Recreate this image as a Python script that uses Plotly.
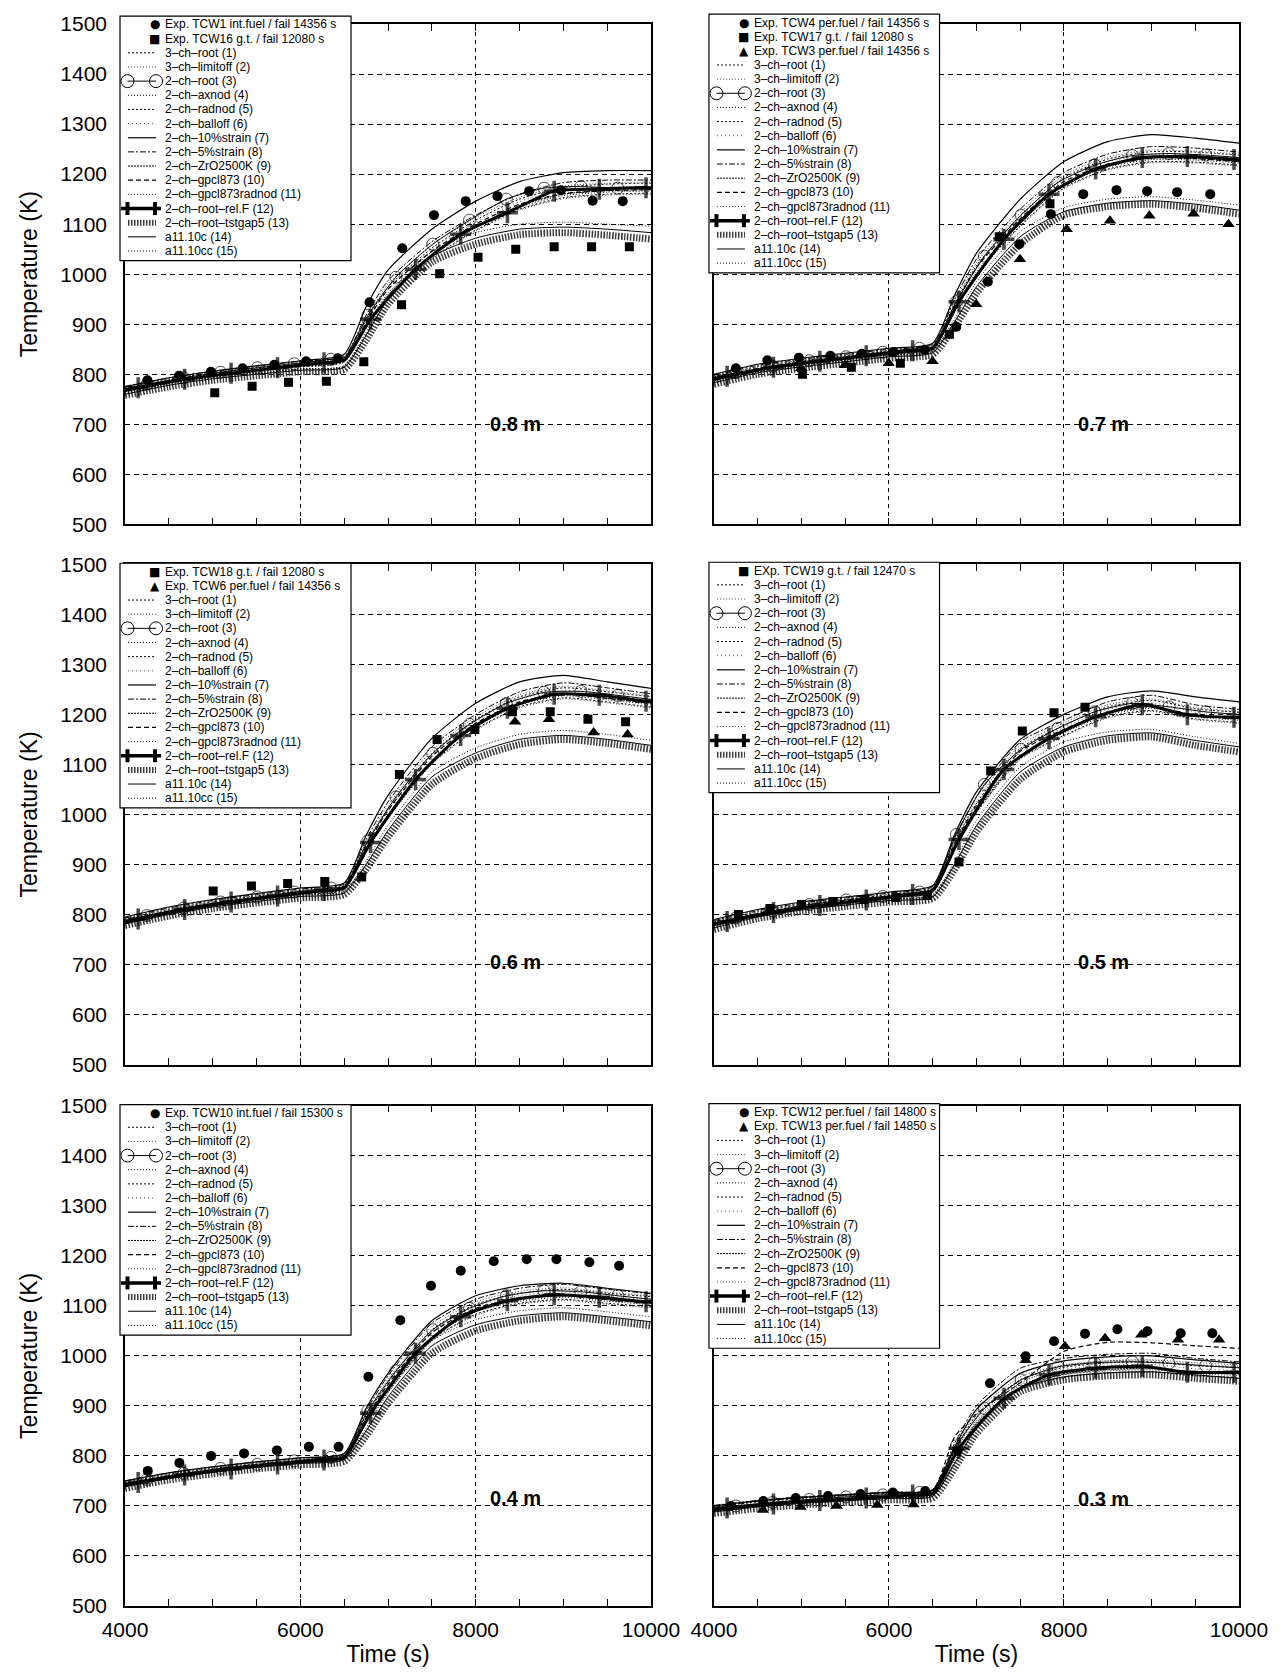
import plotly.graph_objects as go

# ---------------- data ----------------
TIME = [4000, 4500, 5000, 5500, 6000, 6500, 6750, 7000, 7500, 8000, 8500, 9000, 9500, 10000]
TIME_C3 = [4000, 4250, 4670, 5090, 5510, 5930, 6350, 6500, 6770, 7090, 7510, 7930, 8350, 8780, 9200, 9620, 10000]
TIME_C12 = [4000, 4150, 4680, 5210, 5740, 6270, 6500, 6800, 7314, 7829, 8362, 8895, 9410, 9943, 10000]
X_TICKS = [4000, 6000, 8000, 10000]
X_TICK_TEXT = ["4000", "6000", "8000", "10000"]

CURVE_LABELS = {
    1: "3–ch–root (1)", 2: "3–ch–limitoff (2)", 3: "2–ch–root (3)", 4: "2–ch–axnod (4)",
    5: "2–ch–radnod (5)", 6: "2–ch–balloff (6)", 7: "2–ch–10%strain (7)", 8: "2–ch–5%strain (8)",
    9: "2–ch–ZrO2500K (9)", 10: "2–ch–gpcl873 (10)", 11: "2–ch–gpcl873radnod (11)",
    12: "2–ch–root–rel.F (12)", 13: "2–ch–root–tstgap5 (13)", 14: "a11.10c (14)", 15: "a11.10cc (15)",
}

# ---- 0.8 m ----
H08_C01 = [773, 790, 803, 813, 823, 833, 908, 974, 1052, 1108, 1150, 1173, 1180, 1182]
H08_C02 = [774, 791, 804, 814, 824, 834, 912, 980, 1058, 1113, 1154, 1176, 1182, 1184]
H08_C03 = [771, 780, 793, 804, 813, 821, 830, 833, 918, 994, 1060, 1108, 1150, 1172, 1175, 1172, 1172]
H08_C04 = [766, 783, 796, 806, 816, 826, 898, 962, 1037, 1093, 1134, 1157, 1164, 1166]
H08_C05 = [765, 782, 795, 805, 815, 825, 894, 956, 1032, 1088, 1130, 1153, 1160, 1162]
H08_C06 = [771, 788, 801, 811, 821, 831, 903, 970, 1048, 1104, 1145, 1168, 1174, 1176]
H08_C07 = [775, 793, 806, 817, 827, 840, 935, 1008, 1090, 1146, 1185, 1203, 1207, 1207]
H08_C08 = [776, 793, 806, 816, 826, 836, 918, 987, 1065, 1118, 1160, 1183, 1188, 1188]
H08_C09 = [767, 784, 797, 807, 817, 827, 896, 958, 1036, 1095, 1137, 1160, 1167, 1169]
H08_C10 = [770, 787, 800, 810, 820, 830, 904, 970, 1046, 1100, 1140, 1161, 1167, 1169]
H08_C11 = [764, 781, 794, 804, 814, 824, 892, 954, 1030, 1086, 1128, 1151, 1158, 1160]
H08_C12 = [768, 773, 790, 802, 813, 823, 828, 910, 1010, 1080, 1123, 1166, 1170, 1173, 1172]
H08_C13 = [758, 775, 788, 797, 805, 810, 868, 940, 1024, 1060, 1079, 1083, 1078, 1070]
H08_C14 = [760, 778, 791, 800, 808, 814, 878, 950, 1035, 1072, 1090, 1094, 1090, 1083]
H08_C15 = [763, 781, 794, 803, 811, 817, 884, 957, 1045, 1083, 1100, 1104, 1100, 1096]
H08_TCW1_T = [4255, 4617, 4979, 5341, 5703, 6065, 6427, 6789, 7162, 7524, 7886, 8248, 8610, 8972, 9334, 9677]
H08_TCW1_V = [788, 797, 805, 812, 819, 826, 832, 944, 1052, 1118, 1146, 1156, 1166, 1168, 1147, 1146]
H08_TCW16_T = [5024, 5450, 5865, 6297, 6724, 7154, 7589, 8027, 8457, 8895, 9322, 9753]
H08_TCW16_V = [763, 776, 784, 786, 825, 939, 1001, 1034, 1050, 1055, 1055, 1055]

# ---- 0.7 m ----
H07_C01 = [795, 815, 827, 837, 847, 857, 940, 1017, 1117, 1193, 1230, 1245, 1244, 1238]
H07_C02 = [796, 816, 828, 838, 848, 858, 944, 1023, 1123, 1198, 1234, 1248, 1246, 1240]
H07_C03 = [793, 803, 816, 827, 835, 844, 852, 855, 945, 1036, 1118, 1183, 1218, 1237, 1241, 1238, 1233]
H07_C04 = [788, 808, 820, 830, 840, 850, 930, 1005, 1102, 1178, 1214, 1229, 1228, 1222]
H07_C05 = [787, 807, 819, 829, 839, 849, 926, 999, 1097, 1173, 1210, 1225, 1224, 1218]
H07_C06 = [793, 813, 825, 835, 845, 855, 935, 1013, 1113, 1189, 1225, 1240, 1238, 1232]
H07_C07 = [800, 820, 832, 842, 852, 862, 958, 1042, 1150, 1225, 1265, 1279, 1272, 1262]
H07_C08 = [798, 818, 830, 840, 850, 860, 950, 1030, 1130, 1203, 1240, 1255, 1252, 1244]
H07_C09 = [789, 809, 821, 831, 841, 851, 928, 1001, 1101, 1180, 1217, 1232, 1231, 1225]
H07_C10 = [792, 812, 824, 834, 844, 854, 936, 1013, 1111, 1185, 1220, 1233, 1231, 1225]
H07_C11 = [786, 806, 818, 828, 838, 848, 924, 997, 1095, 1171, 1208, 1223, 1222, 1216]
H07_C12 = [790, 796, 814, 826, 837, 847, 852, 945, 1070, 1160, 1210, 1233, 1235, 1229, 1228]
H07_C13 = [780, 800, 812, 822, 832, 840, 895, 962, 1060, 1118, 1135, 1140, 1132, 1120]
H07_C14 = [783, 803, 815, 825, 835, 843, 905, 975, 1075, 1125, 1142, 1147, 1140, 1128]
H07_C15 = [786, 806, 818, 828, 838, 846, 912, 985, 1085, 1133, 1150, 1155, 1148, 1138]
H07_TCW4_T = [4250, 4610, 4970, 5330, 5690, 6050, 6410, 6770, 7130, 7490, 7850, 8220, 8600, 8950, 9293, 9671]
H07_TCW4_V = [812, 828, 833, 837, 841, 844, 849, 895, 985, 1060, 1120, 1160, 1168, 1166, 1164, 1160]
H07_TCW17_T = [5012, 5570, 6130, 6690, 7260, 7840]
H07_TCW17_V = [800, 814, 822, 880, 1075, 1141]
H07_TCW3_T = [4997, 5497, 5997, 6497, 6997, 7497, 8031, 8526, 8976, 9480, 9880]
H07_TCW3_V = [812, 818, 822, 826, 940, 1030, 1090, 1107, 1117, 1121, 1100]

# ---- 0.6 m ----
H06_C01 = [790, 810, 825, 837, 848, 858, 940, 1012, 1122, 1190, 1235, 1253, 1245, 1235]
H06_C02 = [791, 811, 826, 838, 849, 859, 944, 1018, 1128, 1195, 1239, 1256, 1247, 1237]
H06_C03 = [788, 798, 813, 825, 835, 845, 853, 856, 947, 1035, 1122, 1180, 1222, 1244, 1246, 1238, 1230]
H06_C04 = [783, 803, 818, 830, 841, 851, 930, 1000, 1107, 1175, 1219, 1237, 1229, 1219]
H06_C05 = [782, 802, 817, 829, 840, 850, 926, 994, 1102, 1170, 1215, 1233, 1225, 1215]
H06_C06 = [788, 808, 823, 835, 846, 856, 935, 1008, 1118, 1186, 1230, 1248, 1239, 1229]
H06_C07 = [795, 815, 830, 842, 853, 863, 958, 1038, 1152, 1222, 1265, 1278, 1265, 1252]
H06_C08 = [793, 813, 828, 840, 851, 861, 950, 1025, 1135, 1200, 1245, 1263, 1253, 1241]
H06_C09 = [784, 804, 819, 831, 842, 852, 928, 996, 1106, 1177, 1222, 1240, 1232, 1222]
H06_C10 = [787, 807, 822, 834, 845, 855, 936, 1008, 1116, 1182, 1225, 1241, 1232, 1222]
H06_C11 = [781, 801, 816, 828, 839, 849, 924, 992, 1100, 1168, 1213, 1231, 1223, 1213]
H06_C12 = [785, 791, 810, 825, 837, 848, 853, 944, 1070, 1158, 1212, 1240, 1238, 1226, 1225]
H06_C13 = [778, 797, 812, 823, 833, 840, 890, 955, 1060, 1112, 1140, 1150, 1142, 1130]
H06_C14 = [781, 800, 815, 826, 836, 843, 900, 968, 1075, 1123, 1150, 1158, 1150, 1138]
H06_C15 = [784, 803, 818, 829, 839, 846, 907, 978, 1085, 1133, 1160, 1168, 1160, 1148]
H06_TCW18_T = [5006, 5442, 5855, 6279, 6700, 7130, 7560, 7990, 8420, 8850, 9280, 9710]
H06_TCW18_V = [847, 857, 862, 866, 875, 1080, 1150, 1170, 1205, 1205, 1190, 1185]
H06_TCW6_T = [8448, 8836, 9345, 9733]
H06_TCW6_V = [1185, 1190, 1164, 1160]

# ---- 0.5 m ----
H05_C01 = [785, 805, 820, 830, 840, 853, 945, 1022, 1132, 1178, 1215, 1228, 1211, 1204]
H05_C02 = [786, 806, 821, 831, 841, 854, 949, 1028, 1138, 1183, 1219, 1231, 1213, 1206]
H05_C03 = [783, 793, 807, 820, 829, 836, 845, 851, 960, 1060, 1130, 1172, 1205, 1222, 1215, 1205, 1200]
H05_C04 = [778, 798, 813, 823, 833, 846, 935, 1010, 1117, 1163, 1199, 1212, 1195, 1188]
H05_C05 = [777, 797, 812, 822, 832, 845, 931, 1004, 1112, 1158, 1195, 1208, 1191, 1184]
H05_C06 = [783, 803, 818, 828, 838, 851, 940, 1018, 1128, 1174, 1210, 1223, 1205, 1198]
H05_C07 = [790, 810, 825, 835, 845, 858, 960, 1045, 1150, 1200, 1235, 1247, 1235, 1225]
H05_C08 = [788, 808, 823, 833, 843, 856, 955, 1035, 1145, 1188, 1225, 1238, 1219, 1210]
H05_C09 = [779, 799, 814, 824, 834, 847, 933, 1006, 1116, 1165, 1202, 1215, 1198, 1191]
H05_C10 = [782, 802, 817, 827, 837, 850, 941, 1018, 1126, 1170, 1205, 1216, 1198, 1191]
H05_C11 = [776, 796, 811, 821, 831, 844, 929, 1002, 1110, 1156, 1193, 1206, 1189, 1182]
H05_C12 = [780, 786, 804, 818, 829, 840, 848, 950, 1090, 1152, 1195, 1219, 1199, 1194, 1194]
H05_C13 = [770, 792, 806, 816, 825, 832, 890, 965, 1070, 1125, 1148, 1155, 1138, 1125]
H05_C14 = [773, 795, 809, 819, 828, 835, 900, 978, 1085, 1135, 1157, 1163, 1148, 1135]
H05_C15 = [776, 798, 812, 822, 831, 838, 907, 988, 1095, 1145, 1165, 1170, 1155, 1142]
H05_TCW19_T = [4280, 4640, 5000, 5360, 5720, 6080, 6440, 6800, 7162, 7524, 7886, 8240]
H05_TCW19_V = [800, 812, 820, 826, 830, 834, 838, 905, 1087, 1167, 1203, 1214]

# ---- 0.4 m ----
H04_C01 = [747, 763, 775, 785, 793, 802, 880, 947, 1052, 1103, 1125, 1133, 1125, 1118]
H04_C02 = [748, 764, 776, 786, 794, 803, 884, 953, 1058, 1108, 1129, 1136, 1127, 1120]
H04_C03 = [745, 753, 765, 775, 783, 790, 797, 800, 890, 970, 1052, 1095, 1120, 1130, 1128, 1120, 1113]
H04_C04 = [740, 756, 768, 778, 786, 795, 870, 935, 1037, 1088, 1109, 1117, 1109, 1102]
H04_C05 = [739, 755, 767, 777, 785, 794, 866, 929, 1032, 1083, 1105, 1113, 1105, 1098]
H04_C06 = [745, 761, 773, 783, 791, 800, 875, 943, 1048, 1099, 1120, 1128, 1119, 1112]
H04_C07 = [750, 766, 778, 788, 796, 805, 895, 965, 1070, 1120, 1140, 1145, 1135, 1125]
H04_C08 = [750, 766, 778, 788, 796, 805, 890, 960, 1065, 1113, 1135, 1143, 1133, 1124]
H04_C09 = [741, 757, 769, 779, 787, 796, 868, 931, 1036, 1090, 1112, 1120, 1112, 1105]
H04_C10 = [744, 760, 772, 782, 790, 799, 876, 943, 1046, 1095, 1115, 1121, 1112, 1105]
H04_C11 = [738, 754, 766, 776, 784, 793, 864, 927, 1030, 1081, 1103, 1111, 1103, 1096]
H04_C12 = [742, 747, 762, 774, 784, 792, 797, 885, 1005, 1078, 1110, 1122, 1117, 1108, 1108]
H04_C13 = [735, 752, 764, 774, 782, 789, 840, 905, 1005, 1050, 1070, 1078, 1070, 1060]
H04_C14 = [738, 755, 767, 777, 785, 792, 850, 918, 1020, 1062, 1080, 1086, 1078, 1068]
H04_C15 = [741, 758, 770, 780, 788, 795, 856, 926, 1030, 1072, 1090, 1096, 1088, 1078]
H04_TCW10_T = [4260, 4620, 4982, 5358, 5733, 6097, 6436, 6776, 7140, 7490, 7830, 8206, 8582, 8921, 9297, 9636]
H04_TCW10_V = [770, 786, 800, 805, 811, 818, 818, 958, 1071, 1140, 1170, 1189, 1193, 1193, 1187, 1180]

# ---- 0.3 m ----
H03_C01 = [698, 708, 715, 720, 725, 730, 810, 882, 952, 977, 986, 988, 980, 977]
H03_C02 = [699, 709, 716, 721, 726, 731, 814, 888, 958, 982, 990, 991, 982, 979]
H03_C03 = [696, 700, 707, 713, 718, 722, 727, 728, 820, 895, 952, 978, 986, 988, 985, 980, 976]
H03_C04 = [691, 701, 708, 713, 718, 723, 800, 870, 937, 962, 970, 972, 964, 961]
H03_C05 = [690, 700, 707, 712, 717, 722, 796, 864, 932, 957, 966, 968, 960, 957]
H03_C06 = [696, 706, 713, 718, 723, 728, 805, 878, 948, 973, 981, 983, 974, 971]
H03_C07 = [700, 710, 717, 722, 727, 732, 818, 893, 965, 990, 998, 1000, 992, 985]
H03_C08 = [701, 711, 718, 723, 728, 733, 825, 900, 975, 995, 1003, 1005, 995, 988]
H03_C09 = [692, 702, 709, 714, 719, 724, 798, 866, 936, 964, 973, 975, 967, 964]
H03_C10 = [700, 710, 717, 722, 727, 732, 838, 884, 946, 1009, 1027, 1026, 1020, 1015]
H03_C11 = [695, 705, 712, 717, 722, 727, 810, 875, 945, 980, 990, 992, 986, 982]
H03_C12 = [693, 696, 704, 711, 716, 722, 725, 815, 915, 962, 975, 979, 967, 967, 967]
H03_C13 = [685, 695, 702, 707, 712, 716, 775, 845, 928, 952, 960, 962, 955, 949]
H03_C14 = [688, 698, 705, 710, 715, 719, 785, 855, 935, 958, 966, 968, 962, 955]
H03_C15 = [690, 700, 707, 712, 717, 721, 790, 862, 942, 963, 972, 974, 968, 962]
H03_TCW12_T = [4194, 4564, 4934, 5304, 5674, 6044, 6414, 6784, 7154, 7562, 7886, 8240, 8610, 8953, 9334, 9695]
H03_TCW12_V = [700, 710, 716, 720, 724, 727, 730, 810, 945, 999, 1029, 1044, 1053, 1049, 1045, 1045]
H03_TCW13_T = [4560, 4988, 5402, 5866, 6280, 7562, 8011, 8469, 8884, 9303, 9772]
H03_TCW13_V = [692, 698, 700, 702, 703, 991, 1019, 1035, 1042, 1032, 1032]

# ---------------- styling ----------------
FONT = "Liberation Sans, Arial, sans-serif"
SIM_STYLE = {
    1: dict(color="black", width=1, dash="2px,2px"),
    2: dict(color="#444444", width=1, dash="1px,2px"),
    4: dict(color="black", width=1, dash="1px,2px"),
    5: dict(color="black", width=1, dash="2px,2px"),
    6: dict(color="#555555", width=1, dash="1px,3px"),
    7: dict(color="black", width=1.2, dash="solid"),
    8: dict(color="black", width=1, dash="6px,2px,2px,2px"),
    9: dict(color="black", width=1, dash="2px,1px"),
    10: dict(color="black", width=1.2, dash="5px,3px"),
    11: dict(color="#333333", width=1, dash="1px,2px"),
    13: dict(color="#3a3a3a", width=7, dash="1.5px,1.5px"),
    14: dict(color="black", width=1, dash="solid"),
    15: dict(color="black", width=1, dash="1px,2px"),
}
DRAW_ORDER = [13, 14, 15, 1, 2, 4, 5, 6, 9, 10, 11, 8, 7]
EXP_MARK = {"circle": ("circle", 10), "square": ("square", 9), "triangle": ("triangle-up", 11)}
GLYPH = {"circle": "●", "square": "■", "triangle": "▲"}
NO_MARK = {4000, 6500, 10000}

PANELS = [
    dict(idx=1, label="0.8 m", label_y=700, box_top=-8,
         sims={1: H08_C01, 2: H08_C02, 4: H08_C04, 5: H08_C05, 6: H08_C06, 7: H08_C07, 8: H08_C08,
               9: H08_C09, 10: H08_C10, 11: H08_C11, 13: H08_C13, 14: H08_C14, 15: H08_C15},
         c3=H08_C03, c12=H08_C12,
         exps=[("circle", H08_TCW1_T, H08_TCW1_V, "Exp. TCW1 int.fuel / fail 14356 s"),
               ("square", H08_TCW16_T, H08_TCW16_V, "Exp. TCW16 g.t. / fail 12080 s")]),
    dict(idx=2, label="0.7 m", label_y=700, box_top=-10,
         sims={1: H07_C01, 2: H07_C02, 4: H07_C04, 5: H07_C05, 6: H07_C06, 7: H07_C07, 8: H07_C08,
               9: H07_C09, 10: H07_C10, 11: H07_C11, 13: H07_C13, 14: H07_C14, 15: H07_C15},
         c3=H07_C03, c12=H07_C12,
         exps=[("circle", H07_TCW4_T, H07_TCW4_V, "Exp. TCW4 per.fuel / fail 14356 s"),
               ("square", H07_TCW17_T, H07_TCW17_V, "Exp. TCW17 g.t. / fail 12080 s"),
               ("triangle", H07_TCW3_T, H07_TCW3_V, "Exp. TCW3 per.fuel / fail 14356 s")]),
    dict(idx=3, label="0.6 m", label_y=705, box_top=-1,
         sims={1: H06_C01, 2: H06_C02, 4: H06_C04, 5: H06_C05, 6: H06_C06, 7: H06_C07, 8: H06_C08,
               9: H06_C09, 10: H06_C10, 11: H06_C11, 13: H06_C13, 14: H06_C14, 15: H06_C15},
         c3=H06_C03, c12=H06_C12,
         exps=[("square", H06_TCW18_T, H06_TCW18_V, "Exp. TCW18 g.t. / fail 12080 s"),
               ("triangle", H06_TCW6_T, H06_TCW6_V, "Exp. TCW6 per.fuel / fail 14356 s")]),
    dict(idx=4, label="0.5 m", label_y=705, box_top=-2,
         sims={1: H05_C01, 2: H05_C02, 4: H05_C04, 5: H05_C05, 6: H05_C06, 7: H05_C07, 8: H05_C08,
               9: H05_C09, 10: H05_C10, 11: H05_C11, 13: H05_C13, 14: H05_C14, 15: H05_C15},
         c3=H05_C03, c12=H05_C12,
         exps=[("square", H05_TCW19_T, H05_TCW19_V, "EXp. TCW19 g.t. / fail 12470 s")]),
    dict(idx=5, label="0.4 m", label_y=715, box_top=-1,
         sims={1: H04_C01, 2: H04_C02, 4: H04_C04, 5: H04_C05, 6: H04_C06, 7: H04_C07, 8: H04_C08,
               9: H04_C09, 10: H04_C10, 11: H04_C11, 13: H04_C13, 14: H04_C14, 15: H04_C15},
         c3=H04_C03, c12=H04_C12,
         exps=[("circle", H04_TCW10_T, H04_TCW10_V, "Exp. TCW10 int.fuel / fail 15300 s")]),
    dict(idx=6, label="0.3 m", label_y=713, box_top=-2,
         sims={1: H03_C01, 2: H03_C02, 4: H03_C04, 5: H03_C05, 6: H03_C06, 7: H03_C07, 8: H03_C08,
               9: H03_C09, 10: H03_C10, 11: H03_C11, 13: H03_C13, 14: H03_C14, 15: H03_C15},
         c3=H03_C03, c12=H03_C12,
         exps=[("circle", H03_TCW12_T, H03_TCW12_V, "Exp. TCW12 per.fuel / fail 14800 s"),
               ("triangle", H03_TCW13_T, H03_TCW13_V, "Exp. TCW13 per.fuel / fail 14850 s")]),
]

X_DOM = {0: [0.0, 0.4722], 1: [0.5287, 1.0]}
Y_DOM = {0: [0.6837, 1.0], 1: [0.3422, 0.6585], 2: [0.0, 0.3163]}
PW, PH = 526.0, 502.0


def fx(p):
    return p / PW


def fy(p):
    return 1 - p / PH


fig = go.Figure()
shapes = []
annotations = []
layout_axes = {}

for P in PANELS:
    i = P["idx"]
    s = "" if i == 1 else str(i)
    xa, ya = "x" + s, "y" + s
    row, col = (i - 1) // 2, (i - 1) % 2

    for c in DRAW_ORDER:
        st = SIM_STYLE[c]
        fig.add_trace(go.Scatter(x=TIME, y=P["sims"][c], xaxis=xa, yaxis=ya, mode="lines",
                                 line=dict(color=st["color"], width=st["width"], dash=st["dash"],
                                           shape="spline", smoothing=0.6),
                                 showlegend=False, hoverinfo="skip"))
    fig.add_trace(go.Scatter(x=TIME_C3, y=P["c3"], xaxis=xa, yaxis=ya, mode="lines+markers",
                             line=dict(color="black", width=1, shape="spline", smoothing=0.6),
                             marker=dict(symbol="circle-open", color="black", line=dict(width=1, color="black"),
                                         size=[0 if t in NO_MARK else 12 for t in TIME_C3]),
                             showlegend=False, hoverinfo="skip"))
    fig.add_trace(go.Scatter(x=TIME_C12, y=P["c12"], xaxis=xa, yaxis=ya, mode="lines+markers",
                             line=dict(color="black", width=3, shape="spline", smoothing=0.6),
                             marker=dict(symbol="cross-thin", color="black", line=dict(width=3.5, color="black"),
                                         size=[0 if t in NO_MARK else 15 for t in TIME_C12]),
                             showlegend=False, hoverinfo="skip"))
    for kind, tt, vv, _ in P["exps"]:
        sym, sz = EXP_MARK[kind]
        fig.add_trace(go.Scatter(x=tt, y=vv, xaxis=xa, yaxis=ya, mode="markers",
                                 marker=dict(symbol=sym, size=sz, color="black"),
                                 showlegend=False, hoverinfo="skip"))

    bottom = row == 2
    left = col == 0
    layout_axes["xaxis" + s] = dict(
        domain=X_DOM[col], anchor=ya, range=[4000, 10000], tickvals=X_TICKS, ticktext=X_TICK_TEXT,
        ticks="inside", ticklen=7, tickcolor="black", tickwidth=1,
        minor=dict(dtick=500, tick0=4000, ticks="inside", ticklen=7, tickcolor="black", showgrid=False),
        showgrid=True, gridcolor="black", gridwidth=1, griddash="4px,4px",
        showline=True, linecolor="black", linewidth=1.5, mirror="ticks", zeroline=False,
        showticklabels=bottom, ticklabelstandoff=4,
        tickfont=dict(family=FONT, size=21, color="black"),
        title=dict(text="Time (s)" if bottom else "", font=dict(family=FONT, size=23, color="black"), standoff=6),
    )
    layout_axes["yaxis" + s] = dict(
        domain=Y_DOM[row], anchor=xa, range=[500, 1500], dtick=100, tick0=500,
        ticks="", showgrid=True, gridcolor="black", gridwidth=1, griddash="5px,4px",
        showline=True, linecolor="black", linewidth=1.5, mirror=True, zeroline=False,
        showticklabels=left, ticklabelstandoff=12,
        tickfont=dict(family=FONT, size=21, color="black"),
        title=dict(text="Temperature (K)" if left else "", font=dict(family=FONT, size=23, color="black"), standoff=16),
    )

    annotations.append(dict(x=8450, y=P["label_y"], xref=xa, yref=ya, text="<b>" + P["label"] + "</b>",
                            showarrow=False, font=dict(family=FONT, size=20, color="black")))

    xd, yd = xa + " domain", ya + " domain"
    n = len(P["exps"]) + 15
    top = P["box_top"]
    h = n * 14.2 + 4
    shapes.append(dict(type="rect", xref=xd, yref=yd, x0=fx(-5), x1=fx(226), y0=fy(top), y1=fy(top + h),
                       fillcolor="white", line=dict(color="black", width=1.2), layer="above"))
    k = 0
    for kind, _, _, text in P["exps"]:
        cy = top + 8.5 + k * 14.2
        annotations.append(dict(x=fx(37), y=fy(cy), xref=xd, yref=yd, xanchor="right", yanchor="middle",
                                text=GLYPH[kind], showarrow=False,
                                font=dict(family="DejaVu Sans", size=12, color="black")))
        annotations.append(dict(x=fx(38), y=fy(cy), xref=xd, yref=yd, xanchor="left", yanchor="middle",
                                text=text, showarrow=False, font=dict(family=FONT, size=12, color="black")))
        k += 1
    for c in range(1, 16):
        cy = top + 8.5 + k * 14.2
        if c == 3:
            shapes.append(dict(type="line", xref=xd, yref=yd, x0=fx(2.5), x1=fx(31), y0=fy(cy), y1=fy(cy),
                               line=dict(color="black", width=1), layer="above"))
            for cx in (2.5, 31):
                shapes.append(dict(type="circle", xref=xd, yref=yd, x0=fx(cx - 6.5), x1=fx(cx + 6.5),
                                   y0=fy(cy - 6.5), y1=fy(cy + 6.5), line=dict(color="black", width=1),
                                   layer="above"))
        elif c == 12:
            shapes.append(dict(type="line", xref=xd, yref=yd, x0=fx(-4), x1=fx(36), y0=fy(cy), y1=fy(cy),
                               line=dict(color="black", width=3.5), layer="above"))
            for cx in (2.5, 30):
                shapes.append(dict(type="line", xref=xd, yref=yd, x0=fx(cx), x1=fx(cx), y0=fy(cy - 6.5),
                                   y1=fy(cy + 6.5), line=dict(color="black", width=4), layer="above"))
        else:
            st = SIM_STYLE[c]
            w = 6 if c == 13 else st["width"]
            shapes.append(dict(type="line", xref=xd, yref=yd, x0=fx(3), x1=fx(31), y0=fy(cy), y1=fy(cy),
                               line=dict(color=st["color"], width=w, dash=st["dash"]), layer="above"))
        annotations.append(dict(x=fx(38), y=fy(cy), xref=xd, yref=yd, xanchor="left", yanchor="middle",
                                text=CURVE_LABELS[c], showarrow=False,
                                font=dict(family=FONT, size=12, color="black")))
        k += 1

fig.update_layout(
    width=1280, height=1675,
    margin=dict(l=125, r=41, t=21, b=67),
    paper_bgcolor="white", plot_bgcolor="white",
    showlegend=False,
    shapes=shapes, annotations=annotations,
    **layout_axes,
)

fig.write_html("out.html")
